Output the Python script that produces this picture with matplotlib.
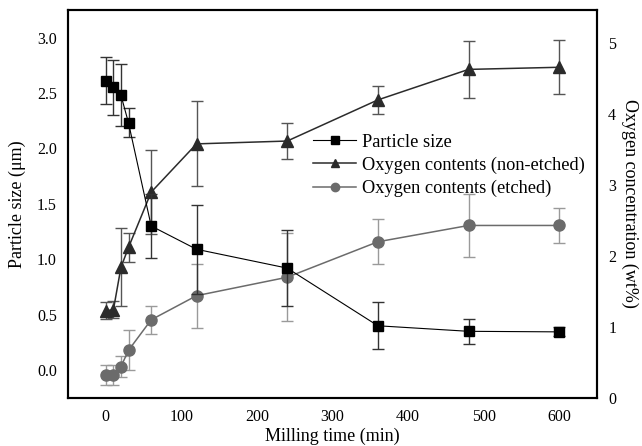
"""Particle size and oxygen content vs milling time."""
import matplotlib
matplotlib.use('Agg')
import matplotlib.pyplot as plt

plt.rcParams['font.family'] = ['Liberation Serif', 'DejaVu Serif']

# Milling time (min)
time = [0, 10, 20, 30, 60, 120, 240, 360, 480, 600]

# Particle size (um), left axis
size = [2.61, 2.55, 2.48, 2.23, 1.30, 1.09, 0.92, 0.40, 0.35, 0.345]
size_err = [0.21, 0.25, 0.28, 0.13, 0.29, 0.40, 0.34, 0.21, 0.11, 0.04]

# Oxygen concentration (wt%), right axis
oxy_raw = [1.23, 1.24, 1.84, 2.12, 2.90, 3.58, 3.62, 4.20, 4.63, 4.66]
oxy_raw_err = [0.12, 0.12, 0.55, 0.21, 0.59, 0.60, 0.26, 0.20, 0.40, 0.38]
oxy_etch = [0.32, 0.32, 0.44, 0.67, 1.10, 1.44, 1.70, 2.20, 2.43, 2.43]
oxy_etch_err = [0.14, 0.14, 0.15, 0.28, 0.20, 0.45, 0.62, 0.32, 0.45, 0.25]

xticks = [0, 100, 200, 300, 400, 500, 600]
yticks_left = [0.0, 0.5, 1.0, 1.5, 2.0, 2.5, 3.0]
yticks_right = [0, 1, 2, 3, 4, 5]

fig = plt.figure(figsize=(6.42, 4.46), dpi=100)
ax = fig.add_axes([0.106, 0.108, 0.824, 0.870])
ax2 = ax.twinx()

# Oxygen series first so particle size sits on top
l2 = ax2.errorbar(time, oxy_raw, yerr=oxy_raw_err, color='#2b2b2b', marker='^',
                  ms=8, lw=1.1, ecolor='#555555', elinewidth=1, capsize=4,
                  capthick=1, label='Oxygen contents (non-etched)')
l3 = ax2.errorbar(time, oxy_etch, yerr=oxy_etch_err, color='#6b6b6b', marker='o',
                  ms=8, lw=1.1, ecolor='#9a9a9a', elinewidth=1, capsize=4,
                  capthick=1, label='Oxygen contents (etched)')
ax.set_zorder(ax2.get_zorder() + 1)
ax.patch.set_visible(False)
l1 = ax.errorbar(time, size, yerr=size_err, color='black', marker='s',
                 ms=7, lw=0.8, ecolor='#333333', elinewidth=1, capsize=4,
                 capthick=1, label='Particle size')

ax.set_xlim(-50, 650)
ax.set_ylim(-0.25, 3.25)
ax2.set_ylim(0, 5.47)
ax.set_xticks(xticks)
ax.set_yticks(yticks_left)
ax.set_yticklabels(['%.1f' % v for v in yticks_left])
ax2.set_yticks(yticks_right)

ax.tick_params(axis='both', length=0, labelsize=11.5, pad=8)
ax2.tick_params(axis='y', length=0, labelsize=11.5, pad=8)

ax.set_xlabel('Milling time (min)', fontsize=13, labelpad=2)
ax.set_ylabel('Particle size (\u03bcm)', fontsize=13, labelpad=8)
ax2.set_ylabel('Oxygen concentration (wt%)', fontsize=13, rotation=270,
               labelpad=16)

for a in (ax, ax2):
    for sp in a.spines.values():
        sp.set_linewidth(1.5)

# legend uses only the line+marker part of each errorbar container
leg = ax.legend([l1[0], l2[0], l3[0]],
                ['Particle size', 'Oxygen contents (non-etched)',
                 'Oxygen contents (etched)'],
                loc='upper left', bbox_to_anchor=(0.45, 0.70), frameon=False,
                fontsize=13.2, handlelength=2.3, handletextpad=0.35,
                labelspacing=0.33, borderaxespad=0, markerscale=0.75)

fig.savefig('out.png', dpi=100)
